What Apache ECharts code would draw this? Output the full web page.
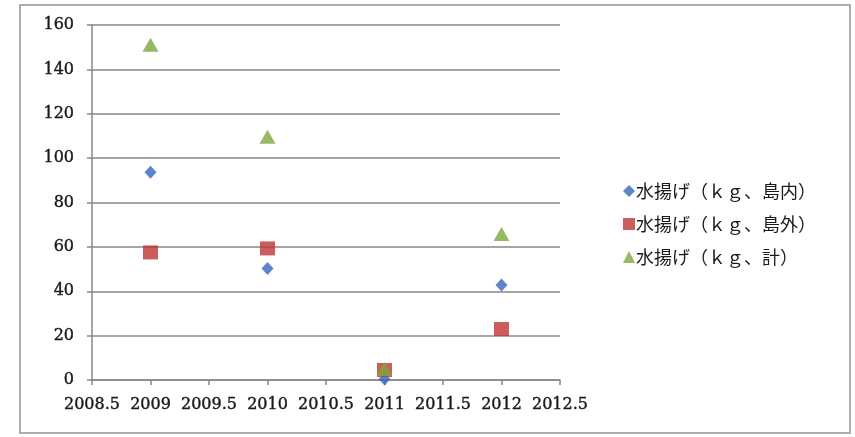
<!DOCTYPE html>
<html>
<head>
<meta charset="utf-8">
<script src="https://cdn.jsdelivr.net/npm/echarts@6/dist/echarts.min.js"></script>
<style>
  html, body { margin: 0; padding: 0; background: #ffffff; }
  #chart { width: 855px; height: 437px; }
</style>
</head>
<body>
<div id="chart"></div>
<script>
// Landings by year (kg)
const years = [2009, 2010, 2011, 2012];
const landedIsland = [93.6, 50.3, 0.5, 42.8];   // 島内
const landedOutside = [57.5, 59.3, 4.5, 23.0];  // 島外
const landedTotal = [151.1, 109.6, 5.0, 65.8];  // 計

const seriesNames = ['水揚げ（ｋｇ、島内）', '水揚げ（ｋｇ、島外）', '水揚げ（ｋｇ、計）'];
const yTicks = { min: 0, max: 160, interval: 20 };
const xTicks = { min: 2008.5, max: 2012.5, interval: 0.5 };

const pairs = vals => years.map((y, i) => [y, vals[i]]);

const gridColor = '#8e8585';
const textColor = '#1a1a1a';
// thin stroke of the same colour gives the labels a slightly heavier weight
const labelFont = {
  fontFamily: '"DejaVu Serif", serif', fontSize: 16, color: textColor,
  textBorderColor: textColor, textBorderWidth: 0.4
};

const chart = echarts.init(document.getElementById('chart'), null, { renderer: 'canvas' });
chart.setOption({
  backgroundColor: '#ffffff',
  animation: false,
  graphic: [{
    type: 'rect',
    shape: { x: 20, y: 5, width: 830, height: 428 },
    style: { fill: 'none', stroke: '#b3abab', lineWidth: 2 },
    silent: true
  }],
  grid: { left: 92, right: 295, top: 25, bottom: 57 },
  legend: {
    orient: 'vertical',
    left: 618,
    top: 177,
    itemGap: 15,
    itemWidth: 12,
    itemHeight: 12,
    textStyle: {
      fontFamily: '"Noto Sans CJK JP", sans-serif', fontSize: 18, color: textColor,
      padding: [0, 0, 0, -4]
    },
    data: seriesNames
  },
  xAxis: {
    type: 'value',
    min: xTicks.min, max: xTicks.max, interval: xTicks.interval,
    axisLine: { show: true, lineStyle: { color: gridColor, width: 1.5 } },
    axisTick: { show: true, length: 5, lineStyle: { color: gridColor, width: 1.5 } },
    splitLine: { show: false },
    axisLabel: Object.assign({ margin: 17, formatter: v => String(v) }, labelFont)
  },
  yAxis: {
    type: 'value',
    min: yTicks.min, max: yTicks.max, interval: yTicks.interval,
    axisLine: { show: true, lineStyle: { color: gridColor, width: 1.5 } },
    axisTick: { show: true, length: 5, lineStyle: { color: gridColor, width: 1.5 } },
    splitLine: { show: true, lineStyle: { color: gridColor, width: 1.5 } },
    axisLabel: Object.assign({ margin: 18 }, labelFont)
  },
  series: [
    {
      name: seriesNames[0], type: 'scatter', symbol: 'diamond', symbolSize: [12, 13],
      itemStyle: { color: '#3468bd' }, data: pairs(landedIsland)
    },
    {
      name: seriesNames[1], type: 'scatter', symbol: 'rect', symbolSize: [15, 14],
      itemStyle: { color: '#bf3535' }, data: pairs(landedOutside)
    },
    {
      name: seriesNames[2], type: 'scatter', symbol: 'triangle', symbolSize: [16, 14],
      itemStyle: { color: '#7aa940' }, data: pairs(landedTotal)
    }
  ]
});
</script>
</body>
</html>
